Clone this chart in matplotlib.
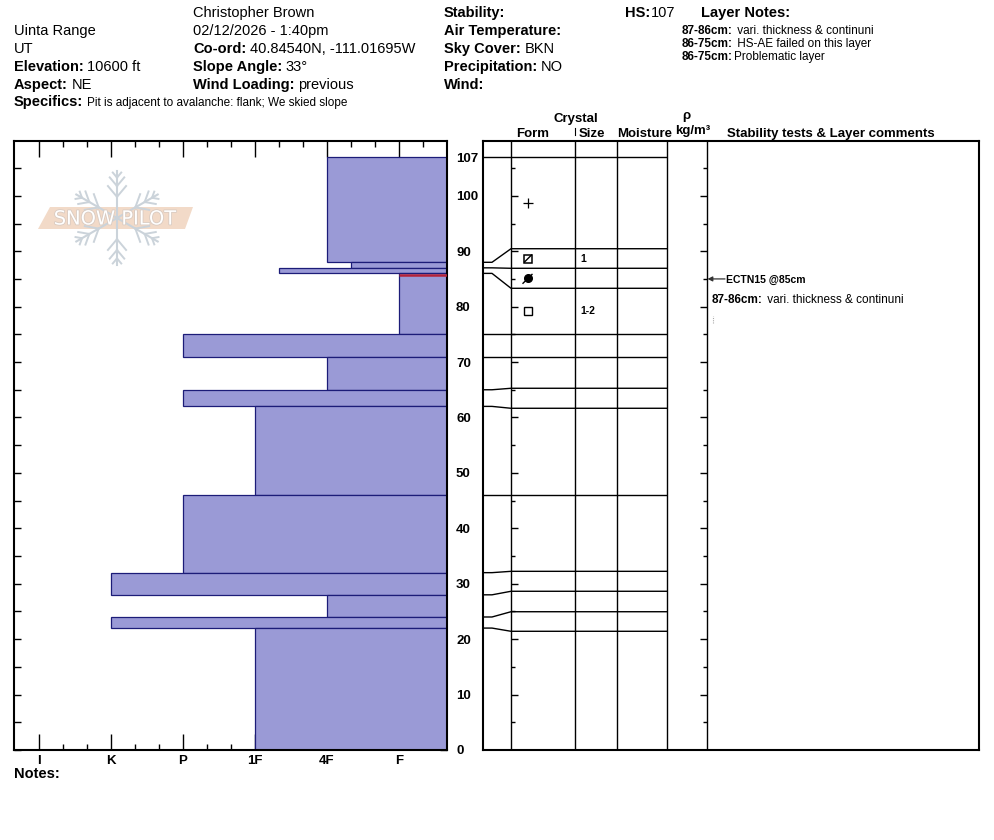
import matplotlib
matplotlib.use("Agg")
import matplotlib.pyplot as plt
import matplotlib.patheffects as pe
import numpy as np

W, H = 994, 840
plt.rcParams['font.family'] = ['Liberation Sans', 'DejaVu Sans']

# ---- pit data (cm from ground) ----
HS = 107
layer_top = [107, 88, 87, 86, 75, 71, 65, 62, 46, 32, 28, 24, 22]
layer_bottom = [88, 87, 86, 75, 71, 65, 62, 46, 32, 28, 24, 22, 0]
layer_hardness = ['4F', '4F-', '1F-', 'F', 'P', '4F', 'P', '1F', 'P', 'K', '4F', 'K', '1F']
layer_form = ['PP', 'FCxr', 'MFcr', 'FC', '', '', '', '', '', '', '', '', '']
layer_size = ['', '1', '', '1-2', '', '', '', '', '', '', '', '', '']
# lower boundaries as drawn in the grain table (spread out so thin layers stay readable)
table_bottom = [90.45, 86.92, 83.31, 75, 71, 65.27, 61.66, 46, 32.24, 28.64, 24.95, 21.42, 0]

hardness_names = ['F', '4F', '1F', 'P', 'K', 'I']
fail_depth = 85.7
test_name = 'ECTN15 @85cm'
test_depth = 85
comment_label = '87-86cm:'
comment_text = 'vari. thickness & continuni'
layer_notes = [('87-86cm:', ' vari. thickness & continuni'),
               ('86-75cm:', ' HS-AE failed on this layer'),
               ('86-75cm:', 'Problematic layer')]

BAR_C = '#9a9ad6'
BAR_EDGE = '#1c1c78'
RED = '#b3233a'

def hard_val(h):
    base = hardness_names.index(h.rstrip('+-')) + 1
    if h.endswith('-'):
        return base - 1/3
    if h.endswith('+'):
        return base + 1/3
    return base

# ---- layout (figure pixels, y down) ----
PX_CM = 593 / 107.
top_px, bot_px = 141, 750
ymax = (bot_px - top_px) / PX_CM

def fx(x): return x / W
def fy(y): return 1 - y / H
def cm2px(c): return bot_px - c * PX_CM

fig = plt.figure(figsize=(W/100., H/100.), dpi=100)
renderer = fig.canvas.get_renderer()

ax1 = fig.add_axes([14/W, (H-bot_px)/H, 433/W, (bot_px-top_px)/H])
ax2 = fig.add_axes([483/W, (H-bot_px)/H, 496/W, (bot_px-top_px)/H])

# ---- hardness profile ----
right_edge = 1/3.
hv = np.array([hard_val(h) for h in layer_hardness])
tops = np.array(layer_top)
bots = np.array(layer_bottom)
ax1.barh(bots, hv - right_edge, height=tops - bots, left=right_edge, align='edge',
         color=BAR_C, edgecolor=BAR_EDGE, linewidth=0.9, zorder=2)
ax1.plot([1, right_edge], [fail_depth, fail_depth], color=RED, lw=1.8,
         solid_capstyle='butt', zorder=3)
ax1.set_xlim(6 + 25/72., right_edge)
ax1.set_ylim(0, ymax)

ax1.set_xticks(range(1, 7))
ax1.set_xticklabels(hardness_names, fontsize=9.5, fontweight='bold')
minor = [m for m in np.arange(2/3., 6.2, 1/3.) if abs(m - round(m)) > 0.05]
ax1.set_xticks(minor, minor=True)
ax1.tick_params(axis='x', which='major', direction='in', length=11.5, width=1,
                top=True, bottom=True, pad=3.5)
ax1.tick_params(axis='x', which='minor', direction='in', length=4.3, width=1,
                top=True, bottom=True)

yt = list(range(0, 101, 10)) + [HS]
ax1.set_yticks(yt)
ax1.set_yticklabels([str(v) for v in yt], fontsize=9.5, fontweight='bold')
ax1.set_yticks(range(5, 106, 10), minor=True)
ax1.tick_params(axis='y', which='both', direction='in', length=5, width=1,
                left=True, right=True, labelleft=False, labelright=True, pad=6.5)
for t in ax1.yaxis.get_major_ticks():
    if t.get_loc() == HS:
        t.tick1line.set_visible(False)
        t.tick2line.set_visible(False)
for s in ax1.spines.values():
    s.set_linewidth(1.5)
ax1.set_facecolor('none')

# ---- grain table / comments ----
ax2.set_xlim(483, 979)
ax2.set_ylim(0, ymax)
ax2.set_xticks([])
ax2.set_yticks([])
for s in ax2.spines.values():
    s.set_linewidth(1.5)
lc = dict(color='k', lw=1.0, solid_capstyle='butt')
for x in [511, 575, 617, 667, 707]:
    ax2.plot([x, x], [0, ymax], **lc)
ax2.plot([483, 667], [HS, HS], **lc)
for d, dd in zip(layer_bottom[:-1], table_bottom[:-1]):
    ax2.plot([483, 492, 511, 667], [d, d, dd, dd], **lc)
for c in range(5, 110, 5):
    L = 7 if c % 10 == 0 else 4
    ax2.plot([511, 511 + L], [c, c], **lc)
    ax2.plot([707 - L, 707], [c, c], **lc)

table_top = [HS] + table_bottom[:-1]
gx = 528
hx, hy = 3.5, 3.5 / PX_CM
for form, size, t0, b0 in zip(layer_form, layer_size, table_top, table_bottom):
    yc = (t0 + b0) / 2.
    if form == 'PP':
        ax2.plot(gx, yc, marker='+', ms=6.5, mew=0.9, color='k')
    elif form == 'FCxr':
        ax2.plot(gx, yc, marker='s', ms=5.2, mfc='none', mec='k', mew=1.1)
        ax2.plot([gx - hx, gx + hx], [yc - hy, yc + hy], color='k', lw=1.0)
    elif form == 'MFcr':
        ax2.plot(gx, yc, marker='o', ms=5.5, color='k')
        ax2.plot([gx - 5, gx + 4], [yc - 0.9, yc + 0.7], color='k', lw=1.0)
    elif form == 'FC':
        ax2.plot(gx, yc, marker='s', ms=5.2, mfc='none', mec='k', mew=1.0)
    if size:
        fig.text(fx(580), fy(cm2px(yc)), size, fontsize=7.5, fontweight='bold',
                 va='center', ha='left')

ax2.annotate('', xy=(707.5, test_depth), xytext=(725, test_depth),
             arrowprops=dict(arrowstyle='-|>', color='#333333', lw=0.9,
                             mutation_scale=7, shrinkA=0, shrinkB=0))
fig.text(fx(726), fy(cm2px(test_depth) + 4), test_name, fontsize=7.5,
         fontweight='bold', va='baseline', ha='left')
ax2.plot([713, 713], [77.1, 78.4], color='#aaaaaa', lw=0.8, ls=(0, (1, 1)))


def label_value(x, y, label, value='', size=10.5, vsize=None, gap=3.5):
    t = fig.text(fx(x), fy(y), label, fontsize=size, fontweight='bold',
                 va='baseline', ha='left')
    if value:
        x1 = t.get_window_extent(renderer).x1
        fig.text(fx(x1 + gap), fy(y), value, fontsize=vsize or size,
                 va='baseline', ha='left')


def rich(x, y, bold, normal, size):
    t = fig.text(fx(x), fy(y), bold, fontsize=size, fontweight='bold',
                 va='baseline', ha='left')
    x1 = t.get_window_extent(renderer).x1
    fig.text(fx(x1 + 1), fy(y), normal, fontsize=size, va='baseline', ha='left')


rich(712, cm2px(test_depth) + 24, comment_label, ' ' + comment_text, 8.5)

# ---- header ----
base = [17, 35, 53, 71, 89]
fig.text(fx(14), fy(base[1]), 'Uinta Range', fontsize=10.5, va='baseline')
fig.text(fx(14), fy(base[2]), 'UT', fontsize=10.5, va='baseline')
label_value(14, base[3], 'Elevation:', '10600 ft')
label_value(14, base[4], 'Aspect:', 'NE')
label_value(14, 106, 'Specifics:', 'Pit is adjacent to avalanche: flank; We skied slope',
            vsize=8.5)

fig.text(fx(193), fy(base[0]), 'Christopher Brown', fontsize=10.5, va='baseline')
fig.text(fx(193), fy(base[1]), '02/12/2026 - 1:40pm', fontsize=10.5, va='baseline')
label_value(193, base[2], 'Co-ord:', '40.84540N, -111.01695W')
label_value(193, base[3], 'Slope Angle:', '33°')
label_value(193, base[4], 'Wind Loading:', 'previous')

label_value(444, base[0], 'Stability:')
label_value(444, base[1], 'Air Temperature:')
label_value(444, base[2], 'Sky Cover:', 'BKN')
label_value(444, base[3], 'Precipitation:', 'NO')
label_value(444, base[4], 'Wind:')
label_value(625, base[0], 'HS:', str(HS), gap=0.5)
label_value(701, base[0], 'Layer Notes:')
for i, (b, n) in enumerate(layer_notes):
    rich(682, 34 + 13 * i, b, n, 8.5)

# column headers
hk = dict(fontsize=9.5, fontweight='bold', va='baseline')
fig.text(fx(576), fy(122), 'Crystal', ha='center', **hk)
fig.text(fx(516), fy(137), 'Form', ha='left', **hk)
fig.text(fx(579), fy(137), 'Size', ha='left', **hk)
fig.text(fx(617), fy(137), 'Moisture', ha='left', **hk)
fig.text(fx(686), fy(119), 'ρ', ha='center', **hk)
fig.text(fx(693), fy(134), 'kg/m³', ha='center', **hk)
fig.text(fx(727), fy(137), 'Stability tests & Layer comments', ha='left', **hk)
fig.text(fx(14), fy(778), 'Notes:', fontsize=10.5, fontweight='bold', va='baseline')

# ---- watermark logo ----
ov = fig.add_axes([0, 0, 1, 1], facecolor='none')
ov.set_xlim(0, W)
ov.set_ylim(H, 0)
ov.axis('off')
ov.plot([575, 575], [128, 135], color='k', lw=0.8)
cx, cy, r = 117, 218, 47
snow_c = '#cbd3da'
for ang in np.deg2rad([90, 30, -30, -90, 150, 210]):
    ux, uy = np.cos(ang), -np.sin(ang)
    ov.plot([cx, cx + r * ux], [cy, cy + r * uy], color=snow_c, lw=1.5)
    for f, bl in [(0.45, 0.3), (0.68, 0.24), (0.86, 0.14)]:
        bx, by = cx + f * r * ux, cy + f * r * uy
        for s in (1, -1):
            a2 = ang + s * np.deg2rad(40)
            ov.plot([bx, bx + bl * r * np.cos(a2)], [by, by - bl * r * np.sin(a2)],
                    color=snow_c, lw=1.4)
ov.fill([50, 193, 185, 38], [207, 207, 229, 229], color='#f2dac8', lw=0)
ov.text(115, 219, 'SNOW PILOT', fontsize=14, color='white', ha='center', va='center',
        family='DejaVu Sans',
        path_effects=[pe.withStroke(linewidth=1.2, foreground='#d9cbc2')])

fig.savefig('out.png', dpi=100)
